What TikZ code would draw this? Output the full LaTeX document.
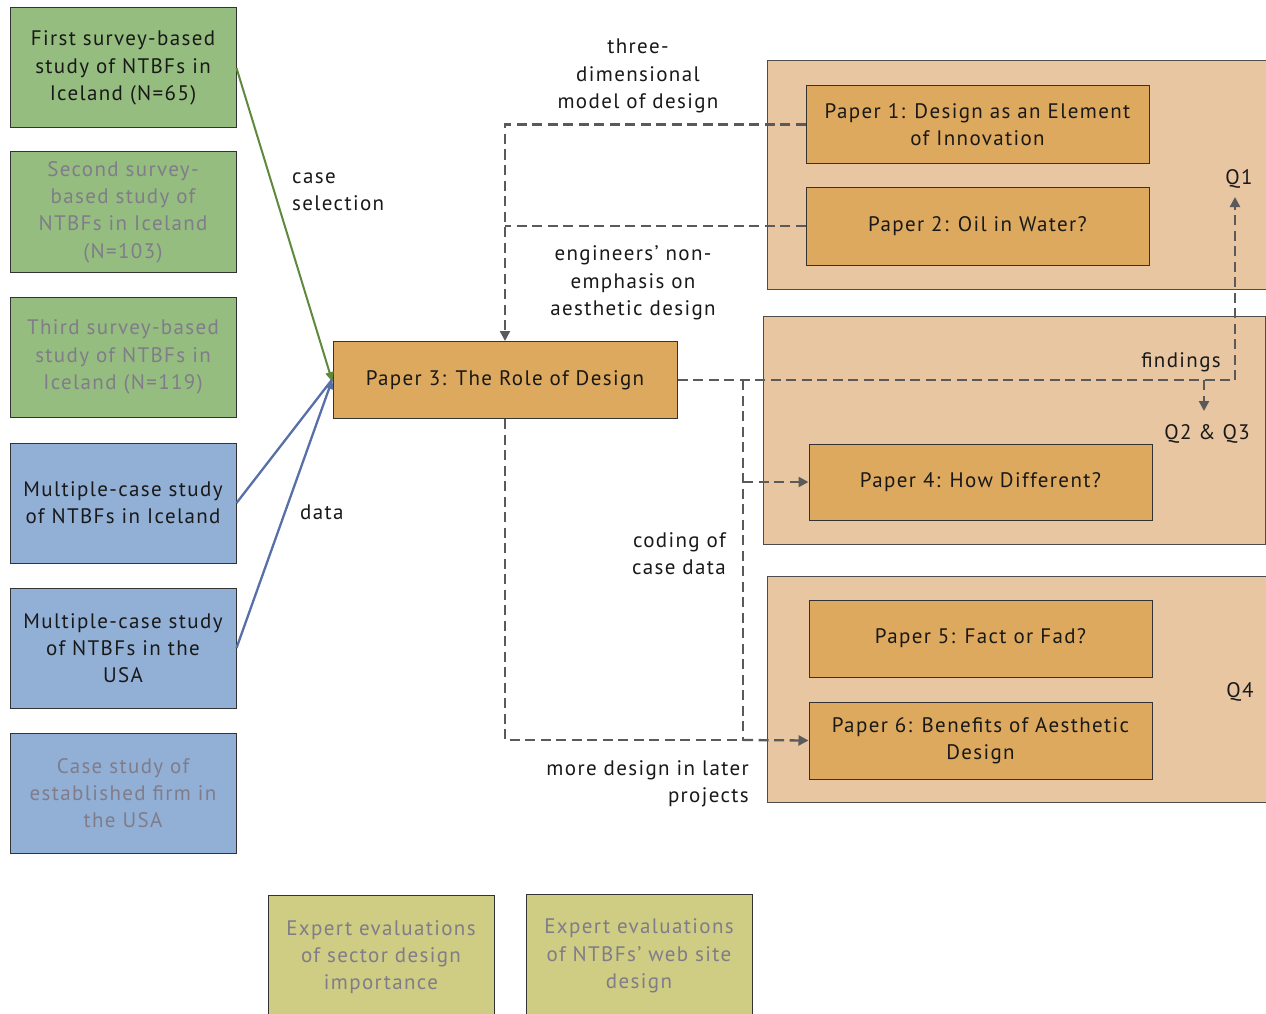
\documentclass[tikz,border=0pt]{standalone}
\usepackage{fontspec}
\setmainfont{PT Sans}[LetterSpace=6.5]
\usetikzlibrary{arrows.meta}
\definecolor{srcgreen}{RGB}{150,189,128}
\definecolor{srcblue}{RGB}{146,176,214}
\definecolor{srcolive}{RGB}{207,204,131}
\definecolor{paperfill}{RGB}{221,169,94}
\definecolor{panelfill}{RGB}{232,198,161}
\definecolor{fadetext}{RGB}{128,124,138}
\definecolor{flowgray}{RGB}{90,90,90}
\definecolor{greenline}{RGB}{95,138,62}
\definecolor{blueline}{RGB}{88,112,168}
\newcommand{\txtsize}{\fontsize{21}{27.3}\selectfont}
\tikzset{
  box/.style={draw=black!80, line width=1pt, align=center, inner sep=0pt,
    font=\txtsize, text=black!90},
  srcbox/.style={box, minimum width=226pt, minimum height=120pt},
  faded/.style={text=fadetext},
  paperbox/.style={box, fill=paperfill, minimum width=343pt, minimum height=77pt},
  panel/.style={draw=black!70, line width=1pt, fill=panelfill, inner sep=0pt},
  lbl/.style={font=\txtsize, inner sep=0pt, text=black!90},
  flow/.style={draw=flowgray, line width=2.3pt, dash pattern=on 10pt off 5.5pt},
  flowtip/.style={-{Triangle[length=10pt,width=10pt]}},
  feed/.style={line width=2pt, -{Triangle[length=10pt,width=8pt]}}
}
\begin{document}
\begin{tikzpicture}[x=1pt,y=-1pt]
\clip (0,0) rectangle (1266,1014);
\fill[white] (0,0) rectangle (1266,1014);

% background panels for the research questions
\node[panel, minimum width=520pt, minimum height=228pt] (pan1) at (1027,175) {};
\node[panel, minimum width=502pt, minimum height=228pt] (pan2) at (1014,430) {};
\node[panel, minimum width=520pt, minimum height=226pt] (pan3) at (1027,689) {};

% data sources
\node[srcbox, fill=srcgreen] (s1) at (123,68) {First survey-based\\study of NTBFs in\\Iceland (N=65)};
\node[srcbox, fill=srcgreen, faded] (s2) at (123,212) {Second survey-\\based study of\\NTBFs in Iceland\\(N=103)};
\node[srcbox, fill=srcgreen, faded] (s3) at (123,357) {Third survey-based\\study of NTBFs in\\Iceland (N=119)};
\node[srcbox, fill=srcblue] (s4) at (123,503) {Multiple-case study\\of NTBFs in Iceland};
\node[srcbox, fill=srcblue] (s5) at (123,648) {Multiple-case study\\of NTBFs in the\\USA};
\node[srcbox, fill=srcblue, faded] (s6) at (123,793) {Case study of\\established firm in\\the USA};
\node[srcbox, fill=srcolive, faded, minimum height=124pt] (s7) at (381,957) {Expert evaluations\\of sector design\\importance};
\node[srcbox, fill=srcolive, faded, minimum height=124pt] (s8) at (639,956) {Expert evaluations\\of NTBFs' web site\\design};

% papers
\node[paperbox, minimum width=344pt] (p3) at (505,380) {Paper 3: The Role of Design};
\node[paperbox] (p1) at (977.5,124.5) {Paper 1: Design as an Element\\of Innovation};
\node[paperbox, minimum height=78pt] (p2) at (977.5,226) {Paper 2: Oil in Water?};
\node[paperbox, minimum height=76pt] (p4) at (980.5,482) {Paper 4: How Different?};
\node[paperbox] (p5) at (980.5,638.5) {Paper 5: Fact or Fad?};
\node[paperbox] (p6) at (980.5,740.5) {Paper 6: Benefits of Aesthetic\\Design};

% labels
\node[lbl, align=left, anchor=west] (lcase) at (292,192) {case\\selection};
\node[lbl, anchor=west] (ldata) at (300,512) {data};
\node[lbl, align=center] (lmodel) at (638,76) {three-\\dimensional\\model of design};
\node[lbl, align=center] (leng) at (633,283) {engineers' non-\\emphasis on\\aesthetic design};
\node[lbl, anchor=east] (lfind) at (1221,362) {findings};
\node[lbl] (lq1) at (1239,179) {Q1};
\node[lbl] (lq23) at (1207,434) {Q2 \& Q3};
\node[lbl] (lq4) at (1240,692) {Q4};
\node[lbl, align=right, anchor=east] (lcode) at (726,554) {coding of\\case data};
\node[lbl, align=right, anchor=east] (lmore) at (749,784) {more design in later\\projects};

% junction points of the dashed flows
\coordinate (jmid) at (743,380);
\coordinate (jlow) at (743,740);
\coordinate (jq1) at (1235,380);
\coordinate (jq23) at (1204,380);
\coordinate (tq1) at (1235,197);
\coordinate (tq23) at (1204,411);

% data sources feeding paper 3
\draw[feed, greenline] (s1.east) -- ([yshift=-2pt]p3.west);
\draw[line width=2.3pt, blueline] (s4.east) -- ([yshift=1pt]p3.west);
\draw[feed, blueline, line width=2.3pt] (s5.east) -- ([yshift=1pt]p3.west);

% dashed flows between papers
\draw[flow, flowtip] (p1.west) -| (p3.north);
\draw[flow] (p2.west) -- (p2.west -| p3.north);
\draw[flow] (p3.east) -- (jq1);
\draw[flow, flowtip] (jq1) -- (tq1);
\draw[flow, flowtip] (jq23) -- (tq23);
\draw[flow] (jmid) -- (jlow);
\draw[flow, flowtip] (jmid |- p4.west) -- (p4.west);
\draw[flow] (p3.south) |- (jlow);
\draw[flow, flowtip] (jlow) -- (p6.west);
\end{tikzpicture}
\end{document}
